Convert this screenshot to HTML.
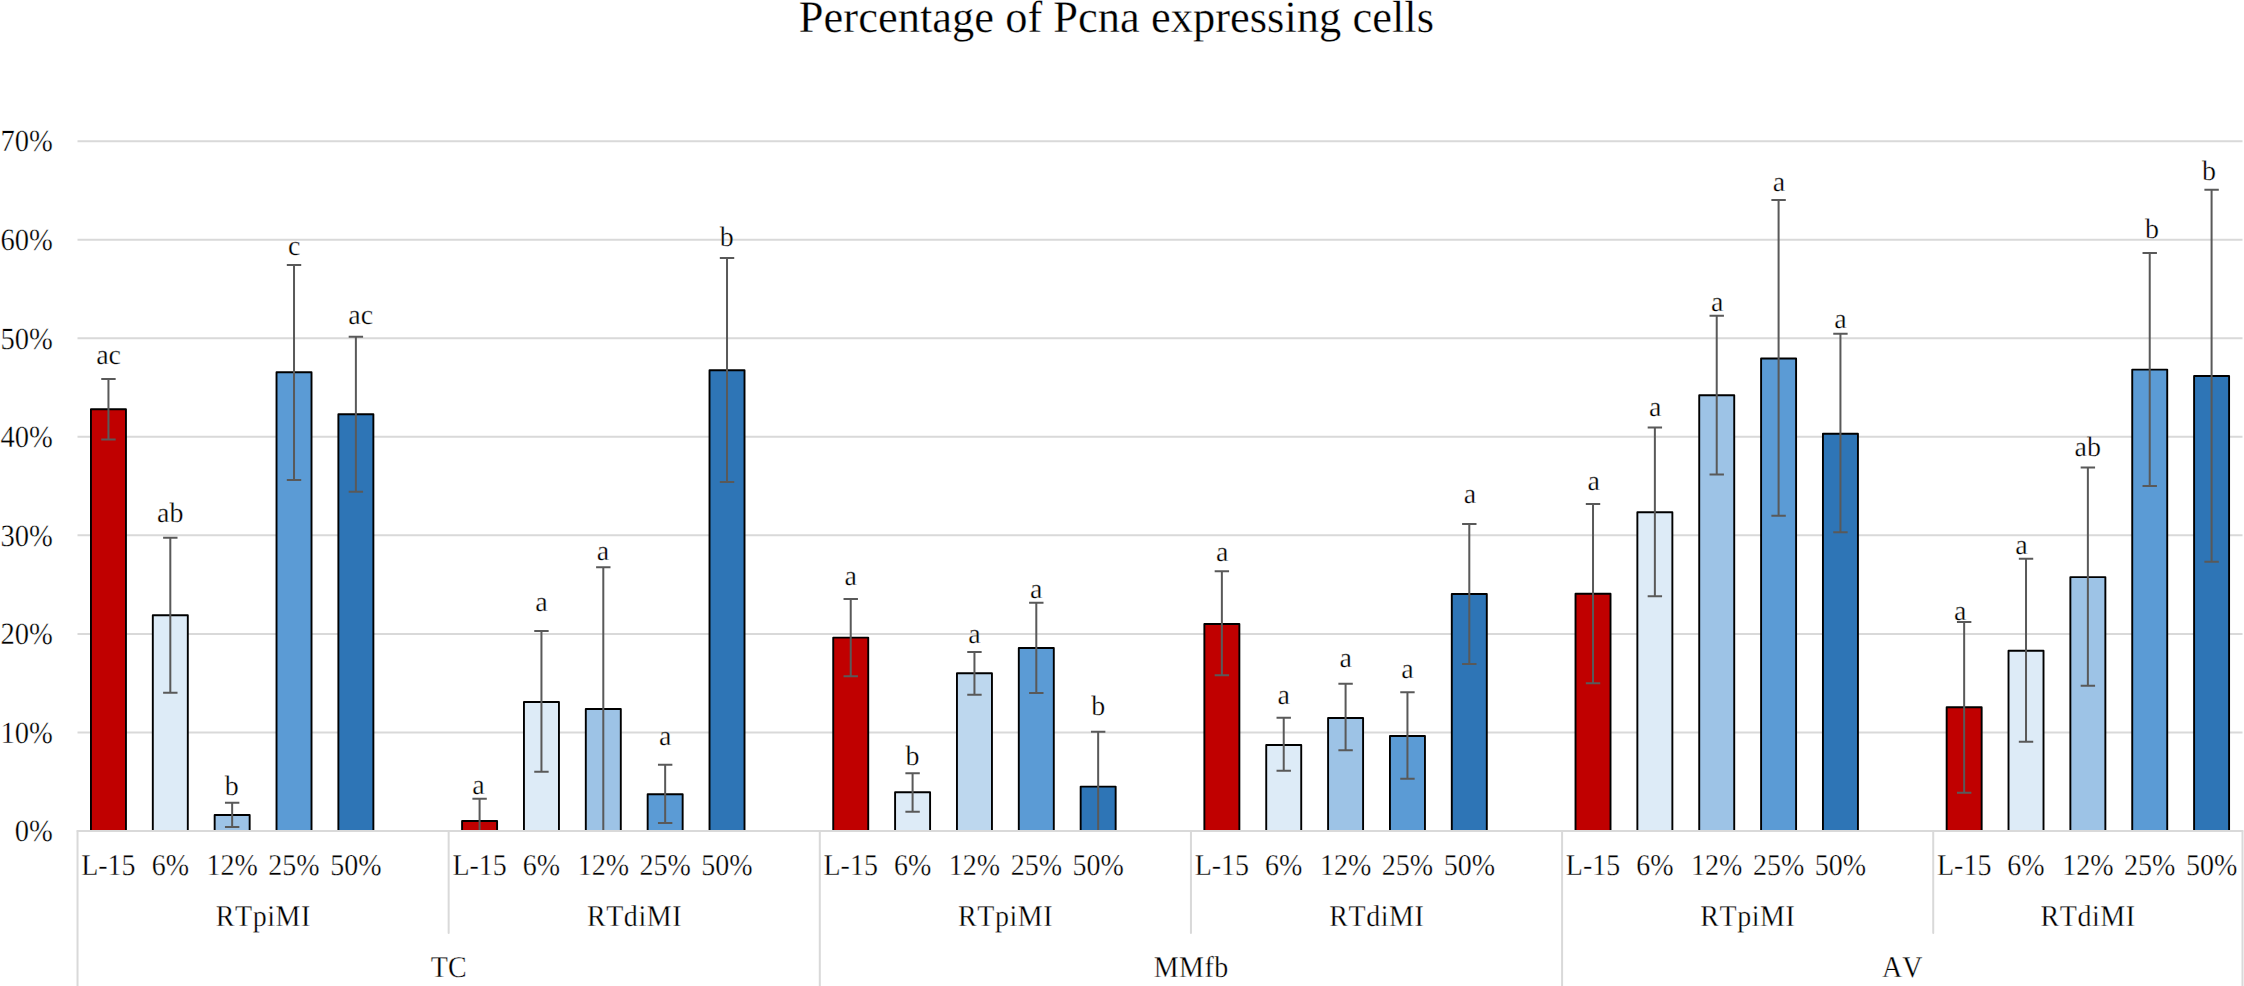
<!DOCTYPE html>
<html lang="en"><head><meta charset="utf-8"><title>Percentage of Pcna expressing cells</title>
<style>html,body{margin:0;padding:0;background:#fff;}body{width:2244px;height:986px;overflow:hidden;}svg{display:block;}text{font-family:"Liberation Serif",serif;fill:#000000;font-kerning:none;text-rendering:geometricPrecision;stroke:#fff;stroke-width:0.3px;}</style></head><body>
<svg width="2244" height="986" viewBox="0 0 2244 986">
<rect width="2244" height="986" fill="#fff"/>
<g stroke="#D9D9D9" stroke-width="2" fill="none">
<line x1="77.5" y1="732.46" x2="2242.5" y2="732.46"/>
<line x1="77.5" y1="633.91" x2="2242.5" y2="633.91"/>
<line x1="77.5" y1="535.37" x2="2242.5" y2="535.37"/>
<line x1="77.5" y1="436.83" x2="2242.5" y2="436.83"/>
<line x1="77.5" y1="338.29" x2="2242.5" y2="338.29"/>
<line x1="77.5" y1="239.74" x2="2242.5" y2="239.74"/>
<line x1="77.5" y1="141.20" x2="2242.5" y2="141.20"/>
</g>
<text transform="translate(52.8 841.2) scale(1 1.080)" font-size="28.6" text-anchor="end">0%</text>
<text transform="translate(52.8 742.7) scale(1 1.080)" font-size="28.6" text-anchor="end">10%</text>
<text transform="translate(52.8 644.1) scale(1 1.080)" font-size="28.6" text-anchor="end">20%</text>
<text transform="translate(52.8 545.6) scale(1 1.080)" font-size="28.6" text-anchor="end">30%</text>
<text transform="translate(52.8 447.0) scale(1 1.080)" font-size="28.6" text-anchor="end">40%</text>
<text transform="translate(52.8 348.5) scale(1 1.080)" font-size="28.6" text-anchor="end">50%</text>
<text transform="translate(52.8 249.9) scale(1 1.080)" font-size="28.6" text-anchor="end">60%</text>
<text transform="translate(52.8 151.4) scale(1 1.080)" font-size="28.6" text-anchor="end">70%</text>
<text transform="translate(1116.4 31.5) scale(1 1.010)" font-size="44.5" text-anchor="middle">Percentage of Pcna expressing cells</text>
<g stroke="#000" stroke-width="1.9" stroke-linejoin="round">
<rect x="90.95" y="409.30" width="35.00" height="421.70" fill="#C00000"/>
<rect x="152.81" y="615.30" width="35.00" height="215.70" fill="#DDEBF7"/>
<rect x="214.66" y="815.00" width="35.00" height="16.00" fill="#9DC3E6"/>
<rect x="276.52" y="372.30" width="35.00" height="458.70" fill="#5B9BD5"/>
<rect x="338.38" y="414.30" width="35.00" height="416.70" fill="#2E75B6"/>
<rect x="462.09" y="821.00" width="35.00" height="10.00" fill="#C00000"/>
<rect x="523.95" y="702.00" width="35.00" height="129.00" fill="#DDEBF7"/>
<rect x="585.80" y="709.00" width="35.00" height="122.00" fill="#9DC3E6"/>
<rect x="647.66" y="794.30" width="35.00" height="36.70" fill="#5B9BD5"/>
<rect x="709.52" y="370.30" width="35.00" height="460.70" fill="#2E75B6"/>
<rect x="833.23" y="637.60" width="35.00" height="193.40" fill="#C00000"/>
<rect x="895.09" y="792.30" width="35.00" height="38.70" fill="#DDEBF7"/>
<rect x="956.95" y="673.30" width="35.00" height="157.70" fill="#BDD7EE"/>
<rect x="1018.80" y="648.00" width="35.00" height="183.00" fill="#5B9BD5"/>
<rect x="1080.66" y="786.60" width="35.00" height="44.40" fill="#2E75B6"/>
<rect x="1204.37" y="624.00" width="35.00" height="207.00" fill="#C00000"/>
<rect x="1266.23" y="745.00" width="35.00" height="86.00" fill="#DDEBF7"/>
<rect x="1328.09" y="718.00" width="35.00" height="113.00" fill="#9DC3E6"/>
<rect x="1389.95" y="736.00" width="35.00" height="95.00" fill="#5B9BD5"/>
<rect x="1451.80" y="594.00" width="35.00" height="237.00" fill="#2E75B6"/>
<rect x="1575.52" y="593.80" width="35.00" height="237.20" fill="#C00000"/>
<rect x="1637.37" y="512.30" width="35.00" height="318.70" fill="#DDEBF7"/>
<rect x="1699.23" y="395.30" width="35.00" height="435.70" fill="#9DC3E6"/>
<rect x="1761.09" y="358.50" width="35.00" height="472.50" fill="#5B9BD5"/>
<rect x="1822.94" y="433.80" width="35.00" height="397.20" fill="#2E75B6"/>
<rect x="1946.66" y="707.30" width="35.00" height="123.70" fill="#C00000"/>
<rect x="2008.52" y="650.80" width="35.00" height="180.20" fill="#DDEBF7"/>
<rect x="2070.37" y="577.10" width="35.00" height="253.90" fill="#9DC3E6"/>
<rect x="2132.23" y="369.60" width="35.00" height="461.40" fill="#5B9BD5"/>
<rect x="2194.09" y="376.00" width="35.00" height="455.00" fill="#2E75B6"/>
</g>
<g stroke="#595959" stroke-width="2" fill="none">
<path d="M108.45 379.00V439.50 M101.25 379.00H115.65 M101.25 439.50H115.65"/>
<path d="M170.31 537.70V692.70 M163.11 537.70H177.51 M163.11 692.70H177.51"/>
<path d="M232.16 802.70V827.00 M224.96 802.70H239.36 M224.96 827.00H239.36"/>
<path d="M294.02 265.00V480.00 M286.82 265.00H301.22 M286.82 480.00H301.22"/>
<path d="M355.88 336.70V491.80 M348.68 336.70H363.08 M348.68 491.80H363.08"/>
<path d="M479.59 798.70V830.00 M472.39 798.70H486.79"/>
<path d="M541.45 631.00V771.70 M534.25 631.00H548.65 M534.25 771.70H548.65"/>
<path d="M603.30 567.30V830.00 M596.10 567.30H610.50"/>
<path d="M665.16 764.70V823.00 M657.96 764.70H672.36 M657.96 823.00H672.36"/>
<path d="M727.02 258.00V482.00 M719.82 258.00H734.22 M719.82 482.00H734.22"/>
<path d="M850.73 599.00V676.30 M843.53 599.00H857.93 M843.53 676.30H857.93"/>
<path d="M912.59 773.30V811.70 M905.39 773.30H919.79 M905.39 811.70H919.79"/>
<path d="M974.45 652.00V694.70 M967.25 652.00H981.65 M967.25 694.70H981.65"/>
<path d="M1036.30 602.70V693.00 M1029.10 602.70H1043.50 M1029.10 693.00H1043.50"/>
<path d="M1098.16 731.70V830.00 M1090.96 731.70H1105.36"/>
<path d="M1221.87 571.30V675.30 M1214.67 571.30H1229.07 M1214.67 675.30H1229.07"/>
<path d="M1283.73 717.70V770.70 M1276.53 717.70H1290.93 M1276.53 770.70H1290.93"/>
<path d="M1345.59 683.70V750.20 M1338.39 683.70H1352.79 M1338.39 750.20H1352.79"/>
<path d="M1407.45 692.30V778.80 M1400.25 692.30H1414.65 M1400.25 778.80H1414.65"/>
<path d="M1469.30 524.00V664.00 M1462.10 524.00H1476.50 M1462.10 664.00H1476.50"/>
<path d="M1593.02 504.00V683.30 M1585.82 504.00H1600.22 M1585.82 683.30H1600.22"/>
<path d="M1654.87 427.60V596.30 M1647.67 427.60H1662.07 M1647.67 596.30H1662.07"/>
<path d="M1716.73 315.70V474.40 M1709.53 315.70H1723.93 M1709.53 474.40H1723.93"/>
<path d="M1778.59 200.00V515.70 M1771.39 200.00H1785.79 M1771.39 515.70H1785.79"/>
<path d="M1840.44 333.80V532.30 M1833.24 333.80H1847.64 M1833.24 532.30H1847.64"/>
<path d="M1964.16 622.00V792.70 M1956.96 622.00H1971.36 M1956.96 792.70H1971.36"/>
<path d="M2026.02 558.80V741.70 M2018.82 558.80H2033.22 M2018.82 741.70H2033.22"/>
<path d="M2087.87 467.50V685.70 M2080.67 467.50H2095.07 M2080.67 685.70H2095.07"/>
<path d="M2149.73 253.00V486.00 M2142.53 253.00H2156.93 M2142.53 486.00H2156.93"/>
<path d="M2211.59 189.70V561.80 M2204.39 189.70H2218.79 M2204.39 561.80H2218.79"/>
</g>
<g stroke="#D9D9D9" stroke-width="2" fill="none" stroke-linecap="round">
<path d="M77.5 831.0H2242.5"/>
<path d="M77.52 831.0V990.0"/>
<path d="M448.66 831.0V933.0"/>
<path d="M819.80 831.0V990.0"/>
<path d="M1190.95 831.0V933.0"/>
<path d="M1562.09 831.0V990.0"/>
<path d="M1933.23 831.0V933.0"/>
<path d="M2242.51 831.0V990.0"/>
</g>
<text transform="translate(108.6 364.0) scale(1 1.000)" font-size="28" text-anchor="middle">ac</text>
<text transform="translate(170.3 522.2) scale(1 1.000)" font-size="28" text-anchor="middle">ab</text>
<text transform="translate(231.8 794.5) scale(1 1.000)" font-size="28" text-anchor="middle">b</text>
<text transform="translate(294.2 254.5) scale(1 1.000)" font-size="28" text-anchor="middle">c</text>
<text transform="translate(360.7 323.8) scale(1 1.000)" font-size="28" text-anchor="middle">ac</text>
<text transform="translate(478.5 793.8) scale(1 1.000)" font-size="28" text-anchor="middle">a</text>
<text transform="translate(541.5 611.3) scale(1 1.000)" font-size="28" text-anchor="middle">a</text>
<text transform="translate(602.9 560.0) scale(1 1.000)" font-size="28" text-anchor="middle">a</text>
<text transform="translate(665.2 744.5) scale(1 1.000)" font-size="28" text-anchor="middle">a</text>
<text transform="translate(726.8 245.5) scale(1 1.000)" font-size="28" text-anchor="middle">b</text>
<text transform="translate(850.7 584.8) scale(1 1.000)" font-size="28" text-anchor="middle">a</text>
<text transform="translate(912.6 764.8) scale(1 1.000)" font-size="28" text-anchor="middle">b</text>
<text transform="translate(974.4 643.2) scale(1 1.000)" font-size="28" text-anchor="middle">a</text>
<text transform="translate(1036.3 597.8) scale(1 1.000)" font-size="28" text-anchor="middle">a</text>
<text transform="translate(1098.2 714.8) scale(1 1.000)" font-size="28" text-anchor="middle">b</text>
<text transform="translate(1222.1 561.2) scale(1 1.000)" font-size="28" text-anchor="middle">a</text>
<text transform="translate(1283.7 703.8) scale(1 1.000)" font-size="28" text-anchor="middle">a</text>
<text transform="translate(1345.6 667.2) scale(1 1.000)" font-size="28" text-anchor="middle">a</text>
<text transform="translate(1407.4 678.2) scale(1 1.000)" font-size="28" text-anchor="middle">a</text>
<text transform="translate(1469.9 503.3) scale(1 1.000)" font-size="28" text-anchor="middle">a</text>
<text transform="translate(1593.6 490.2) scale(1 1.000)" font-size="28" text-anchor="middle">a</text>
<text transform="translate(1655.2 416.3) scale(1 1.000)" font-size="28" text-anchor="middle">a</text>
<text transform="translate(1717.1 311.2) scale(1 1.000)" font-size="28" text-anchor="middle">a</text>
<text transform="translate(1778.9 190.5) scale(1 1.000)" font-size="28" text-anchor="middle">a</text>
<text transform="translate(1840.5 328.2) scale(1 1.000)" font-size="28" text-anchor="middle">a</text>
<text transform="translate(1960.3 620.2) scale(1 1.000)" font-size="28" text-anchor="middle">a</text>
<text transform="translate(2021.4 553.8) scale(1 1.000)" font-size="28" text-anchor="middle">a</text>
<text transform="translate(2087.7 455.7) scale(1 1.000)" font-size="28" text-anchor="middle">ab</text>
<text transform="translate(2151.9 237.8) scale(1 1.000)" font-size="28" text-anchor="middle">b</text>
<text transform="translate(2209.0 179.8) scale(1 1.000)" font-size="28" text-anchor="middle">b</text>
<text transform="translate(108.4 874.5) scale(1 1.080)" font-size="28" text-anchor="middle">L-15</text>
<text transform="translate(170.3 874.5) scale(1 1.080)" font-size="28" text-anchor="middle">6%</text>
<text transform="translate(232.2 874.5) scale(1 1.080)" font-size="28" text-anchor="middle">12%</text>
<text transform="translate(294.0 874.5) scale(1 1.080)" font-size="28" text-anchor="middle">25%</text>
<text transform="translate(355.9 874.5) scale(1 1.080)" font-size="28" text-anchor="middle">50%</text>
<text transform="translate(263.4 925.9) scale(1 1.080)" font-size="28" text-anchor="middle" letter-spacing="0.55">RTpiMI</text>
<text transform="translate(479.6 874.5) scale(1 1.080)" font-size="28" text-anchor="middle">L-15</text>
<text transform="translate(541.4 874.5) scale(1 1.080)" font-size="28" text-anchor="middle">6%</text>
<text transform="translate(603.3 874.5) scale(1 1.080)" font-size="28" text-anchor="middle">12%</text>
<text transform="translate(665.2 874.5) scale(1 1.080)" font-size="28" text-anchor="middle">25%</text>
<text transform="translate(727.0 874.5) scale(1 1.080)" font-size="28" text-anchor="middle">50%</text>
<text transform="translate(634.5 925.9) scale(1 1.080)" font-size="28" text-anchor="middle" letter-spacing="0.55">RTdiMI</text>
<text transform="translate(850.7 874.5) scale(1 1.080)" font-size="28" text-anchor="middle">L-15</text>
<text transform="translate(912.6 874.5) scale(1 1.080)" font-size="28" text-anchor="middle">6%</text>
<text transform="translate(974.4 874.5) scale(1 1.080)" font-size="28" text-anchor="middle">12%</text>
<text transform="translate(1036.3 874.5) scale(1 1.080)" font-size="28" text-anchor="middle">25%</text>
<text transform="translate(1098.2 874.5) scale(1 1.080)" font-size="28" text-anchor="middle">50%</text>
<text transform="translate(1005.6 925.9) scale(1 1.080)" font-size="28" text-anchor="middle" letter-spacing="0.55">RTpiMI</text>
<text transform="translate(1221.9 874.5) scale(1 1.080)" font-size="28" text-anchor="middle">L-15</text>
<text transform="translate(1283.7 874.5) scale(1 1.080)" font-size="28" text-anchor="middle">6%</text>
<text transform="translate(1345.6 874.5) scale(1 1.080)" font-size="28" text-anchor="middle">12%</text>
<text transform="translate(1407.4 874.5) scale(1 1.080)" font-size="28" text-anchor="middle">25%</text>
<text transform="translate(1469.3 874.5) scale(1 1.080)" font-size="28" text-anchor="middle">50%</text>
<text transform="translate(1376.8 925.9) scale(1 1.080)" font-size="28" text-anchor="middle" letter-spacing="0.55">RTdiMI</text>
<text transform="translate(1593.0 874.5) scale(1 1.080)" font-size="28" text-anchor="middle">L-15</text>
<text transform="translate(1654.9 874.5) scale(1 1.080)" font-size="28" text-anchor="middle">6%</text>
<text transform="translate(1716.7 874.5) scale(1 1.080)" font-size="28" text-anchor="middle">12%</text>
<text transform="translate(1778.6 874.5) scale(1 1.080)" font-size="28" text-anchor="middle">25%</text>
<text transform="translate(1840.4 874.5) scale(1 1.080)" font-size="28" text-anchor="middle">50%</text>
<text transform="translate(1747.9 925.9) scale(1 1.080)" font-size="28" text-anchor="middle" letter-spacing="0.55">RTpiMI</text>
<text transform="translate(1964.2 874.5) scale(1 1.080)" font-size="28" text-anchor="middle">L-15</text>
<text transform="translate(2026.0 874.5) scale(1 1.080)" font-size="28" text-anchor="middle">6%</text>
<text transform="translate(2087.9 874.5) scale(1 1.080)" font-size="28" text-anchor="middle">12%</text>
<text transform="translate(2149.7 874.5) scale(1 1.080)" font-size="28" text-anchor="middle">25%</text>
<text transform="translate(2211.6 874.5) scale(1 1.080)" font-size="28" text-anchor="middle">50%</text>
<text transform="translate(2088.1 925.9) scale(1 1.080)" font-size="28" text-anchor="middle" letter-spacing="0.55">RTdiMI</text>
<text transform="translate(448.7 976.8) scale(1 1.080)" font-size="28" text-anchor="middle">TC</text>
<text transform="translate(1191.2 976.8) scale(1 1.080)" font-size="28" text-anchor="middle" letter-spacing="0.5">MMfb</text>
<text transform="translate(1902.3 976.8) scale(1 1.080)" font-size="28" text-anchor="middle">AV</text>
</svg></body></html>
